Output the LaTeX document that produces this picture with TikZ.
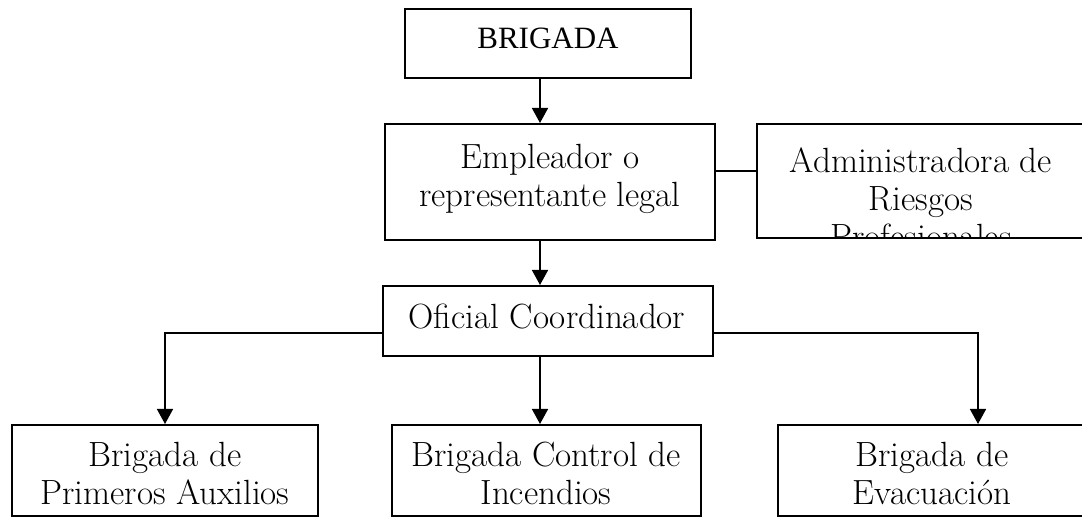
\documentclass[tikz,border=0pt]{standalone}
\usepackage{fontspec}
\newfontfamily\timesf{Liberation Serif}
\usetikzlibrary{arrows.meta}
\begin{document}
\begin{tikzpicture}[x=1pt,y=-1pt,
  box/.style={draw, line width=2pt, inner sep=0pt},
  txt/.style={font=\fontsize{35}{38}\selectfont, align=center, inner sep=0pt},
  ln/.style={line width=1.6pt},
  arr/.style={line width=1.6pt, -{Triangle[width=16pt,length=15pt]}}]
\useasboundingbox (0,0) rectangle (1082,518);
\clip (0,0) rectangle (1082,518);
% boxes
\node[box, minimum width=286pt, minimum height=69pt] (brig) at (548,43.5) {};
\node[box, minimum width=330pt, minimum height=116pt] (emp) at (550,182) {};
\node[box, minimum width=333pt, minimum height=114pt] (adm) at (923.5,181) {};
\node[box, minimum width=330pt, minimum height=70pt] (of) at (548,321) {};
\node[box, minimum width=306pt, minimum height=91pt] (b1) at (165,470.5) {};
\node[box, minimum width=309pt, minimum height=91pt] (b2) at (546.5,470.5) {};
\node[box, minimum width=312pt, minimum height=91pt] (b3) at (934,470.5) {};
% texts
\node[txt, font=\timesf\fontsize{31}{36}\selectfont] (brig-t) at (548,38) {BRIGADA};
\node[txt] (emp-t) at (550,178.5) {Empleador o\\representante legal};
\begin{scope}
  \clip (758,125) rectangle (1082,237);
  \node[txt] (adm-t) at (921,198.5) {Administradora de\\Riesgos\\Profesionales};
\end{scope}
\node[txt] (of-t) at (547,316) {Oficial Coordinador};
\node[txt] (b1-t) at (165,473) {Brigada de\\Primeros Auxilios};
\node[txt] (b2-t) at (546,473) {Brigada Control de\\Incendios};
\node[txt] (b3-t) at (932,473) {Brigada de\\Evacuación};
% helper coordinates
\coordinate (ax) at (540,0);
\coordinate (hy) at (0,171);
\coordinate (by) at (0,333);
\coordinate (rx) at (978,0);
% connectors
\draw[arr] (brig.south -| ax) -- (emp.north -| ax);
\draw[ln] (emp.east |- hy) -- (adm.west |- hy);
\draw[arr] (emp.south -| ax) -- (of.north -| ax);
\draw[arr] (of.west |- by) -| (b1.north);
\draw[arr] (of.south -| ax) -- (b2.north -| ax);
\draw[arr] (of.east |- by) -| (b3.north -| rx);
\end{tikzpicture}
\end{document}
